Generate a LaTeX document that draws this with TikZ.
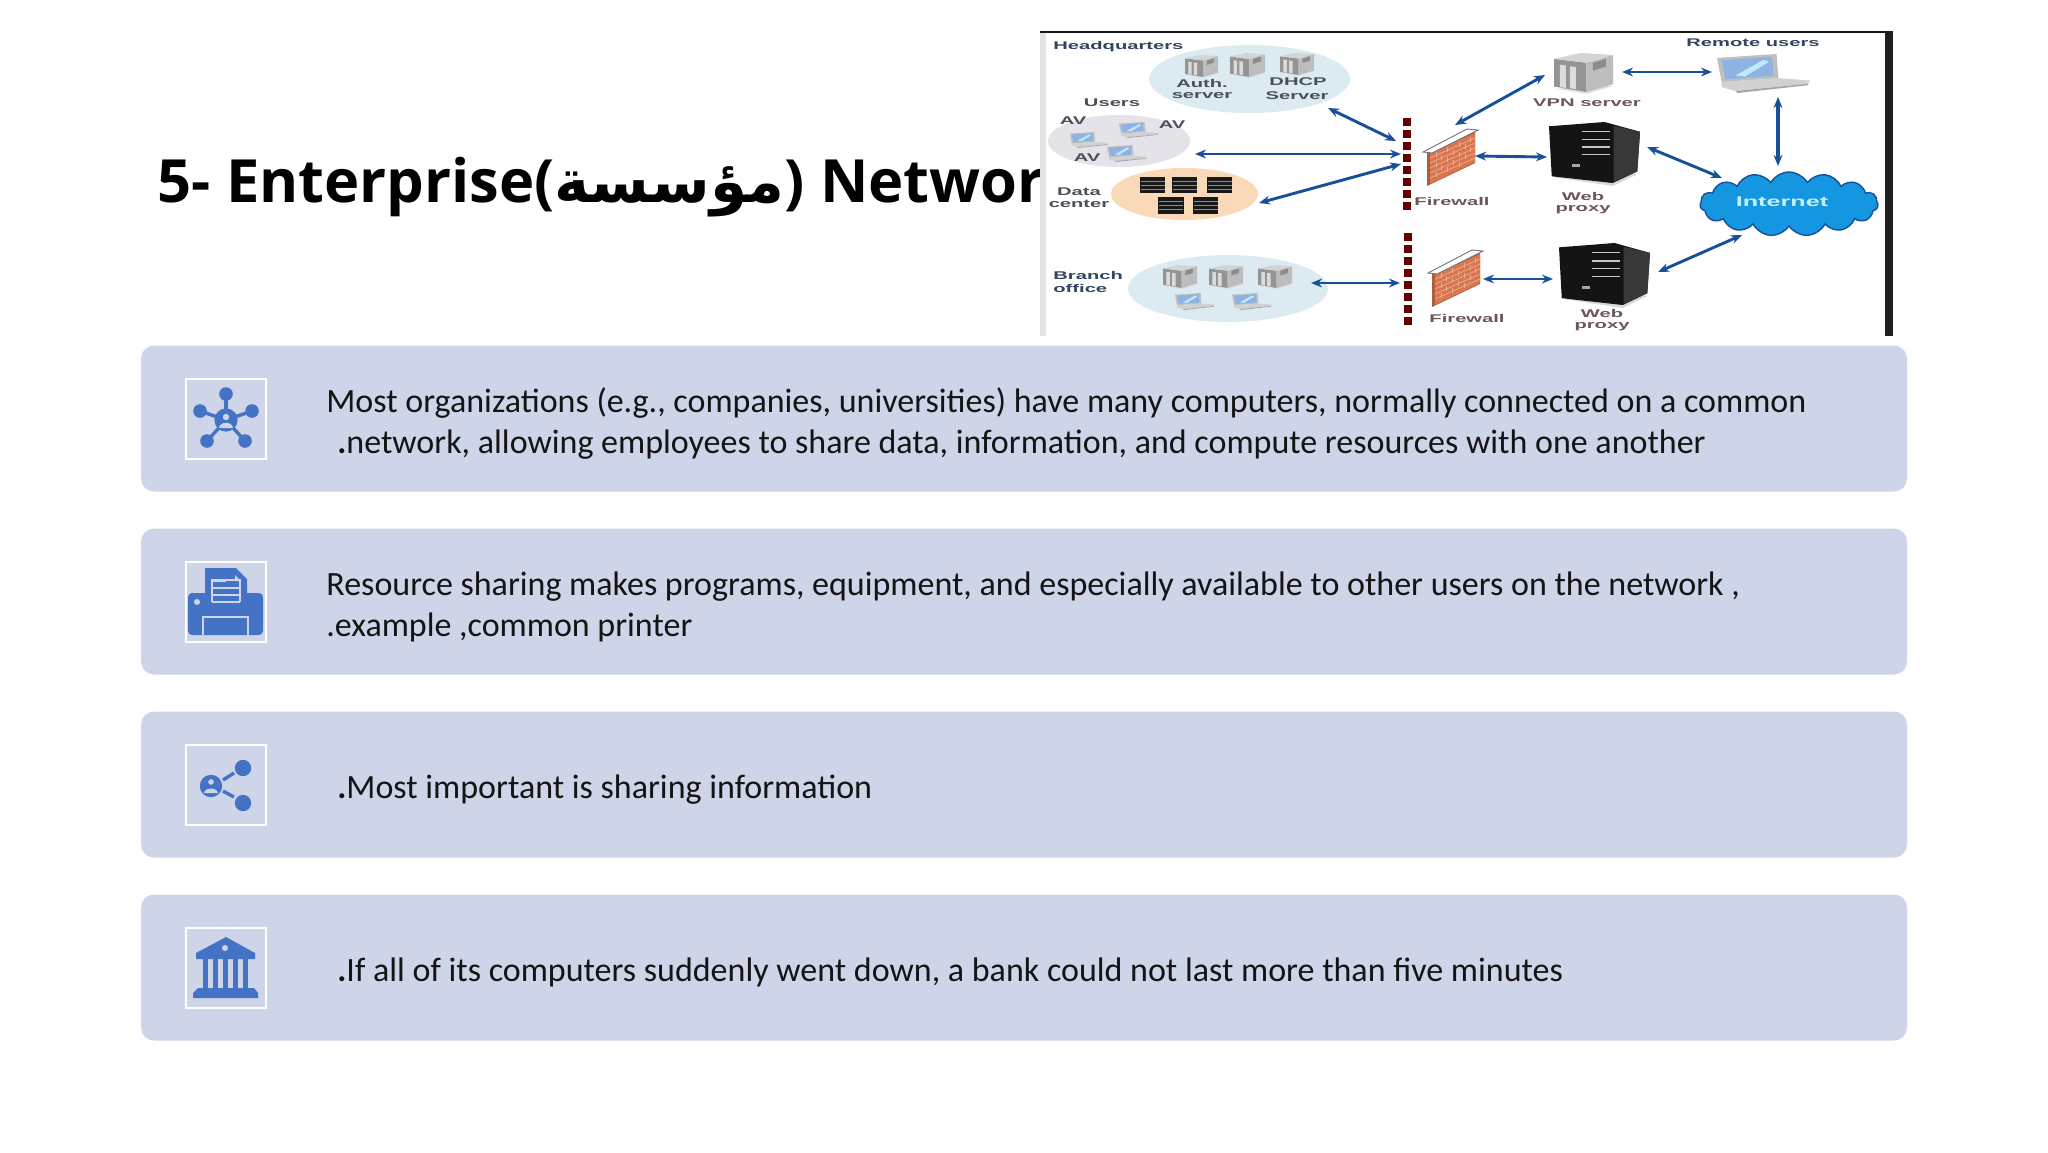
\documentclass[tikz,border=0pt]{standalone}
\usepackage{fontspec}
\usepackage{graphicx}
\usetikzlibrary{arrows.meta,shapes.geometric,shapes.symbols}
\TeXXeTstate=1
\newfontfamily\bodyf{Carlito}
\newfontfamily\titlef{Open Sans}
\newfontfamily\arabf[Script=Arabic]{DejaVu Sans}
\newfontfamily\imgf[FakeStretch=1.8]{Liberation Sans}
\definecolor{cardc}{HTML}{CFD5E8}
\definecolor{iconc}{HTML}{4472C4}
\definecolor{arrowc}{HTML}{174F98}
\definecolor{navyt}{HTML}{33445E}
\definecolor{greyt}{HTML}{4A4F58}
\definecolor{redt}{HTML}{6E5557}
\definecolor{hqc}{HTML}{DCEBF2}
\definecolor{userc}{HTML}{E5E2EA}
\definecolor{dcc}{HTML}{FAD9B8}
\definecolor{brick}{HTML}{D9764F}
\definecolor{brickl}{HTML}{EBAE92}
\definecolor{cloudc}{HTML}{1496E0}
\tikzset{
  card/.style={rectangle,rounded corners=6.5pt,fill=cardc,draw=none,minimum width=883pt,minimum height=73pt,inner sep=0},
  iconbox/.style={rectangle,fill=cardc,draw=white,line width=1pt,minimum width=40pt,minimum height=40pt,inner sep=0},
  body/.style={anchor=base west,inner sep=0,font=\bodyf\fontsize{17}{20}\selectfont,text=black!92},
  ttl/.style={anchor=base west,inner sep=0,font=\titlef\bfseries\fontsize{29.8}{34}\selectfont,text=black},
  blob/.style={ellipse,draw=none,inner sep=0},
  lbl/.style={inner sep=0,font=\imgf\bfseries\fontsize{5.6}{6}\selectfont,text=greyt},
  conn/.style={{Stealth[length=5.5pt,width=4.4pt]}-{Stealth[length=5.5pt,width=4.4pt]},draw=arrowc,line width=1.45pt},
  fwline/.style={draw=black!40!red!65!black,line width=3.6pt,dash pattern=on 4pt off 2pt},
  iconline/.style={draw=iconc,line width=1.7pt},
  iconfill/.style={fill=iconc,draw=none},
  cutline/.style={draw=cardc,line width=.8pt},
}
% unit-square drawings
\newcommand{\towerpic}[4]{\begin{scope}[shift={(#1,#2)},xscale=#3,yscale=#4]
  \fill[black!12] (.05,.92) -- (.55,1.05) -- (1,.85) -- (.6,.8) -- cycle;
  \fill[black!42] (0,.15) -- (.55,.25) -- (.55,1) -- (0,.86) -- cycle;
  \fill[black!26] (.55,.25) -- (1,.05) -- (1,.8) -- (.55,1) -- cycle;
  \fill[black!17] (0,.15) -- (.45,0) -- (1,.05) -- (.55,.25) -- cycle;
  \fill[black!14] (.1,.3) -- (.2,.32) -- (.2,.9) -- (.1,.87) -- cycle;
  \fill[black!14] (.27,.34) -- (.37,.36) -- (.37,.93) -- (.27,.9) -- cycle;
  \fill[black!45] (.66,.25) -- (.88,.15) -- (.88,.35) -- (.66,.45) -- cycle;
\end{scope}}
\newcommand{\laptoppic}[4]{\begin{scope}[shift={(#1,#2)},xscale=#3,yscale=#4]
  \fill[black!25] (0,.1) -- (.64,0) -- (.66,.62) -- (.05,.72) -- cycle;
  \fill[cyan!55!blue!45] (.05,.16) -- (.59,.07) -- (.61,.56) -- (.09,.65) -- cycle;
  \fill[white!75!cyan] (.2,.55) -- (.5,.15) -- (.56,.2) -- (.3,.58) -- cycle;
  \fill[black!18] (.05,.72) -- (.66,.62) -- (1,.68) -- (.98,.76) -- (.2,.95) -- (.05,.85) -- cycle;
  \fill[black!35] (.2,.95) -- (.98,.76) -- (.98,.8) -- (.22,1) -- cycle;
\end{scope}}
\newcommand{\blackpic}[4]{\begin{scope}[shift={(#1,#2)},xscale=#3,yscale=#4]
  \fill[black!15] (.03,.9) -- (.7,1.05) -- (.98,.85) -- (.7,.85) -- cycle;
  \fill[black!92] (0,.07) -- (.61,0) -- (1,.16) -- (.97,.81) -- (.7,1) -- (.03,.89) -- cycle;
  \fill[black!78] (.71,.06) -- (1,.16) -- (.97,.81) -- (.71,.98) -- cycle;
  \foreach \yy in {.16,.29,.41,.54} \draw[black!22,line width=.55pt] (.36,\yy) -- (.67,\yy);
  \fill[black!35] (.25,.69) rectangle (.34,.74);
\end{scope}}
\newcommand{\rackpic}[4]{\begin{scope}[shift={(#1,#2)},xscale=#3,yscale=#4]
  \fill[black!90] (0,0) rectangle (1,1);
  \foreach \yy in {.25,.5,.75} \draw[black!45,line width=.5pt] (.02,\yy) -- (.98,\yy);
\end{scope}}
\newcommand{\wallpic}[2]{\begin{scope}[shift={(#1,#2)}]
  \fill[brick!80!black] (4,24) -- (52,3) -- (52,34) -- (4,57) -- cycle;
  \fill[brick] (7,24) -- (52,4) -- (52,33) -- (7,55) -- cycle;
  \foreach \dd in {5,10,15,20,25} \draw[brickl,line width=.35pt] (7,24+\dd) -- (52,4+\dd);
  \foreach \xx/\dd in {13/2,24/2,36/2,47/2,18/7,30/7,42/7,13/12,24/12,36/12,47/12,18/17,30/17,42/17,13/22,24/22,36/22} \draw[brickl,line width=.35pt] (\xx,{24+\dd-(\xx-7)*20/45}) -- (\xx,{24+\dd+5-(\xx-7)*20/45});
  \fill[white] (0,23) -- (44,0) -- (55,1) -- (9,24) -- cycle;
  \draw[black!55,line width=.45pt] (0,23) -- (44,0) -- (55,1) -- (9,24) -- cycle;
\end{scope}}
\begin{document}
\begin{tikzpicture}[x=.5pt,y=-.5pt]
\useasboundingbox (0,0) rectangle (2048,1152);
\fill[white] (0,0) rectangle (2048,1152);
% title
\node[ttl] (title) at (157,202) {5- Enterprise({\arabf\beginR مؤسسة\endR}) Networ};
% cards
\node[card] (card1) at (1024,418.5) {};
\node[card] (card2) at (1024,601.5) {};
\node[card] (card3) at (1024,784.5) {};
\node[card] (card4) at (1024,967.5) {};
\node[iconbox] (box1) at (225.5,418.5) {};
\node[iconbox] (box2) at (225.5,601.5) {};
\node[iconbox] (box3) at (225.5,784.5) {};
\node[iconbox] (box4) at (225.5,967.5) {};
% body text
\node[body] (t1a) at (326,412) {Most organizations (e.g., companies, universities) have many computers, normally connected on a common};
\node[body] (t1b) at (337,453) {{\bfseries .}network, allowing employees to share data, information, and compute resources with one another};
\node[body] (t2a) at (326,595) {Resource sharing makes programs, equipment, and especially available to other users on the network ,};
\node[body] (t2b) at (326,636) {.example ,common printer};
\node[body] (t3) at (337,798) {{\bfseries .}Most important is sharing information};
\node[body] (t4) at (337,981) {{\bfseries .}If all of its computers suddenly went down, a bank could not last more than five minutes};
% icon 1: network
\foreach \xx/\yy in {226/394,200/411,252/411,207/441,245/441} {
  \draw[iconline] (226,420) -- (\xx,\yy);
  \fill[iconc] (\xx,\yy) circle (3.4pt);
}
\fill[iconc] (226,420) circle (5.8pt);
\fill[cardc] (226,417) circle (1.6pt);
\fill[cardc] (219,428) .. controls (220,421) and (232,421) .. (233,428) -- cycle;
% icon 2: printer
\fill[iconc,rounded corners=2pt] (188,593) rectangle (263,635);
\fill[iconc] (205,568) -- (236,568) -- (247,579) -- (247,602) -- (205,602) -- cycle;
\draw[cutline] (212,602) -- (212,580) -- (240,580) -- (240,602);
\draw[cutline] (212,588) -- (240,588);
\draw[cutline] (212,595) -- (240,595);
\draw[cutline] (212,602) -- (240,602);
\fill[cardc] (212,580) rectangle (226,582);
\fill[cardc] (235,575) -- (241,581) -- (235,581) -- cycle;
\fill[cardc] (197,602) circle (1.5pt);
\draw[cutline] (203,635) -- (203,617) -- (248,617) -- (248,635);
% icon 3: share
\fill[iconc] (211,786) circle (5.6pt);
\fill[iconc] (243,768) circle (4.1pt);
\fill[iconc] (243,803) circle (4.1pt);
\draw[iconline] (223,780) -- (234,773);
\draw[iconline] (223,791) -- (234,797);
\fill[cardc] (211,782) circle (1.4pt);
\fill[cardc] (204,793) .. controls (205,787) and (217,787) .. (218,793) -- cycle;
% icon 4: bank
\fill[iconc] (226,937) -- (255,953) -- (255,959) -- (196,959) -- (196,953) -- cycle;
\fill[cardc] (225,948) circle (1.5pt);
\foreach \xx in {203,213,223,233,243} \fill[iconc] (\xx,959) rectangle (\xx+5,988);
\fill[iconc] (198,988) rectangle (254,993);
\fill[iconc] (193,993) -- (198,988) -- (254,988) -- (258,993) -- (258,998) -- (193,998) -- cycle;
% embedded network picture
\fill[white] (1040,32) rectangle (1893,336);
\fill[black!11] (1040,32) rectangle (1046,336);
\fill[black!90] (1040,31) rectangle (1893,33);
\fill[black!88] (1885,31) rectangle (1893,336);
\node[blob,fill=hqc,minimum width=100.5pt,minimum height=34pt] (hq) at (1249.5,79) {};
\node[blob,fill=userc,minimum width=71pt,minimum height=26pt] (usr) at (1119,141) {};
\node[blob,fill=dcc,minimum width=73.5pt,minimum height=26pt] (dc) at (1184.5,194) {};
\node[blob,fill=hqc,minimum width=100pt,minimum height=33.5pt] (branch) at (1228,288.5) {};
\towerpic{1185}{55}{33}{22}
\towerpic{1230}{53}{35}{24}
\towerpic{1280}{53}{34}{22}
\towerpic{1163}{265}{34}{23}
\towerpic{1209}{265}{34}{23}
\towerpic{1258}{265}{34}{23}
\towerpic{1554}{53}{59}{39}
\laptoppic{1070}{132}{38}{16}
\laptoppic{1119}{122}{40}{16}
\laptoppic{1107}{145}{40}{17}
\laptoppic{1175}{293}{40}{17}
\laptoppic{1232}{293}{40}{17}
\laptoppic{1717}{54}{93}{39}
\rackpic{1140}{177}{25}{16}
\rackpic{1172}{177}{25}{16}
\rackpic{1207}{177}{25}{16}
\rackpic{1158}{197}{26}{17}
\rackpic{1193}{197}{25}{17}
\blackpic{1549}{122}{91}{61}
\blackpic{1559}{243}{91}{62}
\wallpic{1423}{129}
\wallpic{1428}{250}
\coordinate (fw1top) at (1407,118);
\coordinate (fw1bot) at (1407,210);
\coordinate (fw2top) at (1408,233);
\coordinate (fw2bot) at (1408,325);
\draw[fwline] (fw1top) -- (fw1bot);
\draw[fwline] (fw2top) -- (fw2bot);
\node[cloud,cloud puffs=15,cloud puff arc=120,cloud ignores aspect,minimum width=89pt,minimum height=32pt,inner sep=0,fill=cloudc,draw=arrowc,line width=.7pt] (net) at (1789,204) {};
\node[inner sep=0,font=\imgf\bfseries\fontsize{7}{8}\selectfont,text=cyan!22] (lnet) at (1782,202) {Internet};
% labels
\node[lbl,text=navyt,anchor=west] (lhq) at (1053,47) {Headquarters};
\node[lbl] (lauth) at (1202,83) {Auth.};
\node[lbl] (lauth2) at (1202,96) {server};
\node[lbl] (ldhcp) at (1298,82) {DHCP};
\node[lbl] (ldhcp2) at (1297,96) {Server};
\node[lbl] (lusers) at (1112,103) {Users};
\node[lbl] (lav1) at (1073,121) {AV};
\node[lbl] (lav2) at (1172,125) {AV};
\node[lbl] (lav3) at (1087,158) {AV};
\node[lbl] (ldata) at (1079,192) {Data};
\node[lbl] (lcenter) at (1079,204) {center};
\node[lbl,text=navyt,anchor=west] (lbr) at (1053,275) {Branch};
\node[lbl,text=navyt,anchor=west] (loff) at (1053,288) {office};
\node[lbl,text=redt] (lfw1) at (1452,201) {Firewall};
\node[lbl,text=redt] (lfw2) at (1467,318) {Firewall};
\node[lbl,text=redt] (lvpn) at (1587,103) {VPN server};
\node[lbl,text=navyt] (lrem) at (1753,43) {Remote users};
\node[lbl,text=redt] (lw1) at (1583,196) {Web};
\node[lbl,text=redt] (lp1) at (1583,210) {proxy};
\node[lbl,text=redt] (lw2) at (1602,313) {Web};
\node[lbl,text=redt] (lp2) at (1602,327) {proxy};
% connectors
\coordinate (a1) at (1328,108); \coordinate (b1) at (1396,141);
\coordinate (a2) at (1195,154); \coordinate (b2) at (1401,154);
\coordinate (a3) at (1259,203); \coordinate (b3) at (1401,164);
\coordinate (a4) at (1311,283); \coordinate (b4) at (1400,283);
\coordinate (a5) at (1455,125); \coordinate (b5) at (1545,75);
\coordinate (a6) at (1475,156); \coordinate (b6) at (1547,157);
\coordinate (a7) at (1622,72); \coordinate (b7) at (1712,72);
\coordinate (a8) at (1778,97); \coordinate (b8) at (1778,166);
\coordinate (a9) at (1647,147); \coordinate (b9) at (1722,178);
\coordinate (a10) at (1658,272); \coordinate (b10) at (1742,235);
\coordinate (a11) at (1483,279); \coordinate (b11) at (1553,279);
\foreach \n in {1,...,7,9,10,11} \draw[conn] (a\n) -- (b\n);
\draw[conn,line width=2pt] (a8) -- (b8);
\end{tikzpicture}
\end{document}
